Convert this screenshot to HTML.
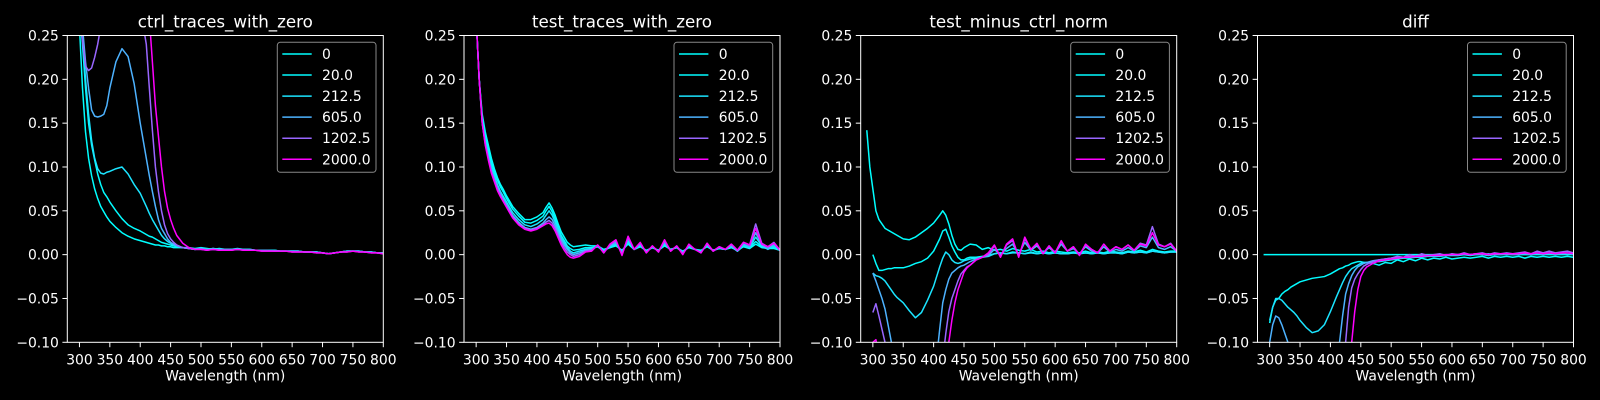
<!DOCTYPE html>
<html><head><meta charset="utf-8"><style>
html,body{margin:0;padding:0;background:#000;width:1600px;height:400px;overflow:hidden;}
svg{display:block;font-family:"DejaVu Sans","Liberation Sans",sans-serif;overflow:hidden;}
</style></head><body>
<svg id="fig" width="1600" height="400" viewBox="0 0 1600 400"></svg>
<script>
const wavelengths=[290,295,300,305,310,315,320,325,330,335,340,345,350,360,370,380,390,400,410,415,420,425,430,435,440,445,450,455,460,470,480,490,500,510,520,530,540,550,560,570,580,590,600,610,620,630,640,650,660,670,680,690,700,710,720,730,740,750,760,770,780,790,800];
const seriesLabels=["0","20.0","212.5","605.0","1202.5","2000.0"];
const panelTitles=["ctrl_traces_with_zero","test_traces_with_zero","test_minus_ctrl_norm","diff"];
const yTicks=[-0.10,-0.05,0.00,0.05,0.10,0.15,0.20,0.25];
const xTicks=[300,350,400,450,500,550,600,650,700,750,800];
const N=null;
const ctrl0=[N,N,0.26,0.19,0.14,0.11,0.09,0.075,0.064,0.055,0.049,0.043,0.038,0.031,0.025,0.021,0.018,0.016,0.014,0.013,0.012,0.011,0.011,0.010,0.010,0.009,0.009,0.008,0.008,0.008,0.007,0.006,0.007,0.006,0.007,0.006,0.006,0.006,0.007,0.006,0.006,0.005,0.005,0.005,0.005,0.004,0.004,0.004,0.004,0.003,0.003,0.003,0.002,0.001,0.002,0.003,0.004,0.004,0.004,0.003,0.003,0.002,0.002];
const ctrl20=[N,N,0.3,0.24,0.19,0.15,0.125,0.108,0.092,0.08,0.071,0.066,0.06,0.05,0.041,0.034,0.03,0.027,0.023,0.021,0.02,0.018,0.016,0.014,0.013,0.012,0.011,0.010,0.009,0.008,0.008,0.007,0.008,0.007,0.006,0.007,0.006,0.006,0.006,0.006,0.005,0.005,0.005,0.005,0.005,0.004,0.004,0.004,0.004,0.003,0.003,0.003,0.002,0.001,0.002,0.003,0.004,0.004,0.004,0.003,0.003,0.002,0.002];
const ctrl212=[N,N,0.3,0.25,0.2,0.16,0.13,0.11,0.098,0.093,0.092,0.094,0.095,0.098,0.1,0.092,0.08,0.07,0.055,0.047,0.04,0.034,0.028,0.022,0.018,0.015,0.013,0.011,0.010,0.008,0.007,0.006,0.007,0.006,0.007,0.006,0.006,0.006,0.006,0.006,0.006,0.005,0.005,0.005,0.005,0.004,0.004,0.004,0.004,0.003,0.003,0.003,0.002,0.001,0.002,0.003,0.004,0.004,0.004,0.003,0.003,0.002,0.002];
const ctrl605=[N,N,0.3,0.26,0.22,0.19,0.165,0.158,0.157,0.158,0.16,0.17,0.19,0.22,0.235,0.226,0.195,0.15,0.11,0.09,0.072,0.055,0.04,0.03,0.024,0.018,0.014,0.012,0.010,0.008,0.007,0.006,0.007,0.006,0.006,0.006,0.006,0.006,0.006,0.006,0.005,0.005,0.005,0.005,0.004,0.004,0.004,0.004,0.004,0.003,0.003,0.003,0.002,0.001,0.002,0.003,0.004,0.004,0.004,0.003,0.003,0.002,0.002];
const ctrl1202=[N,N,0.27,0.245,0.215,0.21,0.213,0.225,0.24,0.26,0.3,0.3,0.3,0.3,0.3,0.3,0.3,0.3,0.24,0.19,0.142,0.1,0.072,0.05,0.034,0.024,0.018,0.014,0.011,0.008,0.007,0.006,0.006,0.005,0.006,0.005,0.005,0.005,0.006,0.005,0.005,0.005,0.004,0.004,0.004,0.004,0.004,0.003,0.003,0.003,0.003,0.002,0.002,0.001,0.002,0.003,0.003,0.004,0.003,0.003,0.002,0.002,0.001];
const ctrl2000=[N,N,0.3,0.3,0.3,0.3,0.3,0.3,0.3,0.3,0.3,0.3,0.3,0.3,0.3,0.3,0.3,0.3,0.3,0.27,0.22,0.17,0.135,0.1,0.072,0.053,0.04,0.03,0.022,0.013,0.008,0.006,0.006,0.005,0.006,0.005,0.005,0.005,0.006,0.005,0.005,0.005,0.004,0.004,0.004,0.004,0.004,0.003,0.003,0.003,0.003,0.002,0.002,0.001,0.002,0.003,0.003,0.004,0.003,0.003,0.002,0.002,0.001];
const test0=[N,N,0.27,0.2,0.16,0.14,0.125,0.11,0.098,0.088,0.08,0.074,0.067,0.055,0.047,0.04,0.04,0.043,0.048,0.054,0.059,0.053,0.045,0.035,0.026,0.02,0.014,0.011,0.009,0.01,0.011,0.01,0.010,0.006,0.008,0.010,0.005,0.012,0.006,0.009,0.005,0.008,0.005,0.010,0.006,0.008,0.004,0.008,0.006,0.005,0.009,0.005,0.007,0.006,0.008,0.005,0.009,0.007,0.012,0.008,0.007,0.007,0.005];
const test20=[N,N,0.27,0.2,0.155,0.135,0.12,0.105,0.094,0.085,0.077,0.071,0.064,0.052,0.044,0.037,0.036,0.039,0.044,0.05,0.055,0.049,0.041,0.031,0.022,0.016,0.01,0.007,0.005,0.006,0.008,0.008,0.009,0.005,0.008,0.011,0.004,0.013,0.006,0.010,0.004,0.008,0.005,0.011,0.006,0.008,0.003,0.009,0.006,0.004,0.010,0.005,0.007,0.006,0.009,0.004,0.010,0.008,0.015,0.009,0.007,0.008,0.005];
const test212=[N,N,0.27,0.2,0.155,0.13,0.115,0.1,0.09,0.08,0.072,0.066,0.06,0.048,0.04,0.034,0.032,0.035,0.04,0.045,0.05,0.045,0.037,0.028,0.019,0.013,0.008,0.004,0.002,0.004,0.006,0.007,0.009,0.004,0.009,0.012,0.003,0.015,0.006,0.010,0.004,0.008,0.005,0.012,0.006,0.008,0.003,0.009,0.006,0.004,0.010,0.005,0.007,0.006,0.009,0.004,0.011,0.008,0.02,0.01,0.006,0.01,0.005];
const test605=[N,N,0.27,0.2,0.15,0.128,0.112,0.097,0.087,0.077,0.07,0.063,0.057,0.045,0.037,0.031,0.029,0.031,0.036,0.04,0.043,0.04,0.033,0.025,0.017,0.011,0.006,0.002,0.0,0.002,0.005,0.006,0.010,0.003,0.010,0.014,0.002,0.018,0.006,0.012,0.003,0.009,0.004,0.014,0.005,0.009,0.002,0.010,0.006,0.003,0.011,0.004,0.008,0.006,0.010,0.004,0.012,0.009,0.025,0.011,0.007,0.012,0.005];
const test1202=[N,N,0.27,0.2,0.15,0.126,0.11,0.095,0.085,0.075,0.068,0.061,0.055,0.043,0.035,0.03,0.028,0.03,0.034,0.037,0.039,0.036,0.03,0.022,0.014,0.008,0.003,0.0,-0.002,0.0,0.004,0.005,0.011,0.002,0.011,0.016,0.0,0.02,0.006,0.013,0.002,0.010,0.003,0.016,0.004,0.010,0.001,0.011,0.006,0.002,0.013,0.004,0.009,0.006,0.012,0.005,0.014,0.011,0.035,0.013,0.009,0.014,0.005];
const test2000=[N,N,0.27,0.2,0.15,0.125,0.108,0.093,0.083,0.073,0.066,0.06,0.054,0.042,0.034,0.029,0.027,0.029,0.033,0.035,0.036,0.033,0.027,0.019,0.011,0.005,0.0,-0.003,-0.004,-0.002,0.003,0.004,0.011,0.002,0.012,0.017,-0.001,0.021,0.006,0.014,0.002,0.010,0.003,0.017,0.004,0.010,0.0,0.012,0.006,0.002,0.013,0.004,0.009,0.006,0.012,0.005,0.014,0.011,0.03,0.012,0.009,0.013,0.005];
const norm0=[0.142,0.1,0.075,0.05,0.04,0.035,0.03,0.028,0.026,0.024,0.022,0.02,0.018,0.017,0.02,0.025,0.03,0.036,0.045,0.05,0.045,0.035,0.022,0.012,0.006,0.005,0.008,0.01,0.012,0.011,0.006,0.008,0.005,0.006,0.004,0.007,0.005,0.004,0.006,0.003,0.004,0.002,0.004,0.003,0.002,0.003,0.002,0.004,0.002,0.003,0.002,0.004,0.003,0.002,0.004,0.003,0.005,0.003,0.006,0.004,0.003,0.004,0.004];
const norm20=[N,N,0.0,-0.01,-0.018,-0.018,-0.017,-0.016,-0.016,-0.015,-0.015,-0.015,-0.015,-0.013,-0.01,-0.008,-0.004,0.004,0.018,0.027,0.029,0.02,0.01,0.003,-0.003,-0.006,-0.006,-0.004,-0.003,-0.003,-0.002,-0.001,0.001,0.002,0.001,0.003,0.002,0.001,0.003,0.001,0.002,0.001,0.002,0.001,0.001,0.002,0.001,0.002,0.001,0.002,0.001,0.002,0.002,0.001,0.003,0.002,0.003,0.002,0.004,0.003,0.002,0.003,0.003];
const norm212=[N,N,-0.021,-0.024,-0.025,-0.027,-0.03,-0.035,-0.04,-0.045,-0.049,-0.052,-0.055,-0.064,-0.072,-0.066,-0.052,-0.036,-0.014,-0.004,0.003,0.0,-0.006,-0.009,-0.01,-0.009,-0.007,-0.006,-0.005,-0.004,-0.003,-0.002,0.001,0.002,0.001,0.002,0.002,0.001,0.002,0.001,0.002,0.001,0.002,0.001,0.001,0.002,0.001,0.002,0.001,0.002,0.001,0.002,0.002,0.001,0.003,0.002,0.003,0.002,0.004,0.003,0.002,0.003,0.003];
const norm605=[N,N,-0.021,-0.03,-0.04,-0.05,-0.062,-0.08,-0.098,-0.12,-0.14,-0.16,-0.18,-0.2,-0.2,-0.2,-0.2,-0.15,-0.085,-0.055,-0.04,-0.028,-0.021,-0.018,-0.015,-0.013,-0.012,-0.01,-0.008,-0.005,-0.003,-0.001,0.006,0.0,0.007,0.012,0.0,0.014,0.005,0.01,0.002,0.008,0.002,0.012,0.004,0.007,0.001,0.009,0.004,0.002,0.009,0.003,0.006,0.004,0.008,0.004,0.01,0.008,0.02,0.008,0.006,0.009,0.004];
const norm1202=[N,N,-0.066,-0.056,-0.07,-0.085,-0.1,-0.12,-0.15,-0.2,-0.2,-0.2,-0.2,-0.2,-0.2,-0.2,-0.2,-0.2,-0.16,-0.12,-0.09,-0.065,-0.05,-0.04,-0.03,-0.022,-0.018,-0.014,-0.012,-0.006,-0.003,0.0,0.01,-0.002,0.011,0.016,-0.002,0.018,0.006,0.012,0.001,0.010,0.002,0.015,0.004,0.009,0.0,0.011,0.006,0.002,0.012,0.004,0.009,0.006,0.011,0.005,0.013,0.011,0.032,0.012,0.009,0.013,0.004];
const norm2000=[N,N,-0.1,-0.097,-0.12,-0.15,-0.2,-0.2,-0.2,-0.2,-0.2,-0.2,-0.2,-0.2,-0.2,-0.2,-0.2,-0.2,-0.2,-0.15,-0.12,-0.1,-0.075,-0.055,-0.04,-0.03,-0.02,-0.015,-0.012,-0.006,-0.003,0.002,0.011,-0.003,0.012,0.018,-0.003,0.02,0.006,0.013,0.001,0.01,0.002,0.016,0.004,0.009,-0.001,0.012,0.006,0.002,0.012,0.004,0.009,0.006,0.011,0.005,0.012,0.01,0.025,0.011,0.009,0.012,0.004];
const diff0=[0,0,0,0,0,0,0,0,0,0,0,0,0,0,0,0,0,0,0,0,0,0,0,0,0,0,0,0,0,0,0,0,0,0,0,0,0,0,0,0,0,0,0,0,0,0,0,0,0,0,0,0,0,0,0,0,0,0,0,0,0,0,0];
const diff20=[N,N,-0.078,-0.06,-0.052,-0.05,-0.045,-0.042,-0.04,-0.037,-0.035,-0.033,-0.031,-0.029,-0.027,-0.026,-0.025,-0.022,-0.018,-0.016,-0.015,-0.013,-0.012,-0.01,-0.009,-0.008,-0.008,-0.009,-0.009,-0.01,-0.012,-0.009,-0.01,-0.006,-0.008,-0.005,-0.007,-0.004,-0.006,-0.004,-0.005,-0.003,-0.005,-0.004,-0.003,-0.004,-0.003,-0.002,-0.004,-0.002,-0.003,-0.002,-0.003,-0.002,-0.004,-0.002,-0.003,-0.002,-0.003,-0.002,-0.003,-0.002,-0.003];
const diff212=[N,N,-0.075,-0.06,-0.05,-0.05,-0.052,-0.056,-0.06,-0.063,-0.066,-0.07,-0.075,-0.083,-0.089,-0.087,-0.08,-0.065,-0.048,-0.04,-0.032,-0.025,-0.02,-0.016,-0.014,-0.012,-0.01,-0.009,-0.009,-0.008,-0.008,-0.007,-0.006,-0.005,-0.004,-0.004,-0.003,-0.003,-0.002,-0.002,-0.002,-0.001,-0.001,-0.001,0.0,-0.001,0.0,0.0,-0.001,0.0,0.0,0.001,0.0,0.0,0.001,0.0,0.001,0.0,0.001,0.0,0.001,0.0,0.001];
const diff605=[N,N,-0.1,-0.08,-0.07,-0.072,-0.08,-0.09,-0.1,-0.12,-0.14,-0.16,-0.18,-0.2,-0.2,-0.2,-0.2,-0.18,-0.13,-0.1,-0.07,-0.045,-0.033,-0.024,-0.018,-0.014,-0.012,-0.01,-0.009,-0.007,-0.006,-0.005,-0.004,-0.003,-0.003,-0.002,-0.002,-0.001,-0.001,-0.001,0.0,-0.001,0.0,0.0,0.001,0.0,0.001,0.0,0.001,0.0,0.001,0.001,0.0,0.001,0.001,0.0,0.002,0.001,0.002,0.001,0.001,0.002,0.001];
const diff1202=[N,N,-0.2,-0.2,-0.2,-0.2,-0.2,-0.2,-0.2,-0.2,-0.2,-0.2,-0.2,-0.2,-0.2,-0.2,-0.2,-0.2,-0.16,-0.13,-0.11,-0.1,-0.06,-0.038,-0.028,-0.022,-0.017,-0.013,-0.011,-0.008,-0.006,-0.005,-0.004,-0.002,-0.003,0.0,-0.002,0.001,-0.001,0.0,0.001,-0.001,0.001,0.0,0.002,0.0,0.001,0.002,0.0,0.002,0.001,0.002,0.001,0.002,0.003,0.001,0.004,0.002,0.004,0.002,0.003,0.004,0.002];
const diff2000=[N,N,-0.2,-0.2,-0.2,-0.2,-0.2,-0.2,-0.2,-0.2,-0.2,-0.2,-0.2,-0.2,-0.2,-0.2,-0.2,-0.2,-0.2,-0.2,-0.2,-0.15,-0.12,-0.1,-0.065,-0.04,-0.025,-0.018,-0.014,-0.01,-0.007,-0.006,-0.005,-0.004,-0.003,-0.003,-0.002,-0.002,-0.001,-0.001,-0.001,0.0,0.0,0.0,0.001,0.0,0.001,0.001,0.0,0.001,0.001,0.001,0.001,0.001,0.002,0.001,0.002,0.001,0.002,0.001,0.002,0.002,0.001];
const panelSeries=[[ctrl0,ctrl20,ctrl212,ctrl605,ctrl1202,ctrl2000],[test0,test20,test212,test605,test1202,test2000],[norm0,norm20,norm212,norm605,norm1202,norm2000],[diff0,diff20,diff212,diff605,diff1202,diff2000]];
const colors=["#00ffff","#03fcff","#1be4ff","#4db2ff","#9966ff","#ff00ff"];

const NS="http://www.w3.org/2000/svg";
const svg=document.getElementById('fig');
function mk(tag,attrs,parent){const e=document.createElementNS(NS,tag);for(const k in attrs)e.setAttribute(k,attrs[k]);(parent||svg).appendChild(e);return e;}
const axLefts=[67.3,464,860.7,1257.5], axW=316, axTop=35.5, axBot=342.3;
const xMin=280,xMax=800,yMin=-0.1,yMax=0.25;
panelTitles.forEach((title,p)=>{
  const L=axLefts[p];
  const xs=v=>L+(v-xMin)/(xMax-xMin)*axW;
  const ysRaw=v=>axBot-(v-yMin)/(yMax-yMin)*(axBot-axTop);
  const ys=v=>Math.min(388,Math.max(8,ysRaw(v)));
  const g=mk('g',{});
  
  
  const cp=mk('clipPath',{id:'clip'+p},g);
  mk('rect',{x:L,y:axTop,width:axW,height:axBot-axTop},cp);
  const lines=mk('g',{'clip-path':'url(#clip'+p+')'},g);
  panelSeries[p].forEach((arr,s)=>{
    let d='';let pen=false;
    arr.forEach((v,i)=>{if(v===null){pen=false;return;}d+=(pen?'L':'M')+xs(wavelengths[i]).toFixed(2)+','+ys(v).toFixed(2);pen=true;});
    const path=mk('path',{d:d,fill:'none',stroke:colors[s],'stroke-width':1.5,'stroke-linejoin':'round'},lines);
    
    
  });
  const frame=mk('rect',{x:L,y:axTop,width:axW,height:axBot-axTop,fill:'none',stroke:'#fff','stroke-width':1},g);
  
  
  yTicks.forEach(t=>{
    const y=ysRaw(t);
    mk('line',{x1:L-4.9,x2:L,y1:y,y2:y,stroke:'#fff','stroke-width':1},g);
    const tx=mk('text',{x:L-8.4,y:y+5,'text-anchor':'end',fill:'#fff','font-size':13.9},g);
    tx.textContent=(t<0?'\u2212':'')+Math.abs(t).toFixed(2);
    
    
  });
  xTicks.forEach(t=>{
    const x=xs(t);
    mk('line',{x1:x,x2:x,y1:axBot,y2:axBot+4.9,stroke:'#fff','stroke-width':1},g);
    const tx=mk('text',{x:x,y:axBot+22,'text-anchor':'middle',fill:'#fff','font-size':13.9},g);
    tx.textContent=t;
    
    
  });
  const xl=mk('text',{x:L+axW/2,y:axBot+38,'text-anchor':'middle',fill:'#fff','font-size':13.9},g);
  xl.textContent='Wavelength (nm)';
  
  
  const tt=mk('text',{x:L+axW/2,y:axTop-8,'text-anchor':'middle',fill:'#fff','font-size':16.7},g);
  tt.textContent=title;
  
  
  const lg=mk('g',{},g);
  
  
  const lx=L+axW-106;
  mk('rect',{x:lx,y:42.3,width:98.7,height:130,rx:3,fill:'#000',stroke:'#888','stroke-width':1,'fill-opacity':0.8},lg);
  seriesLabels.forEach((lab,s)=>{
    const cy=54+s*21.05;
    const ln=mk('line',{x1:lx+5,x2:lx+34.4,y1:cy,y2:cy,stroke:colors[s],'stroke-width':1.5},lg);
    
    
    const tx=mk('text',{x:lx+44.7,y:cy+5,fill:'#fff','font-size':13.9},lg);
    tx.textContent=lab;
    
    
  });
});
</script>
</body></html>
